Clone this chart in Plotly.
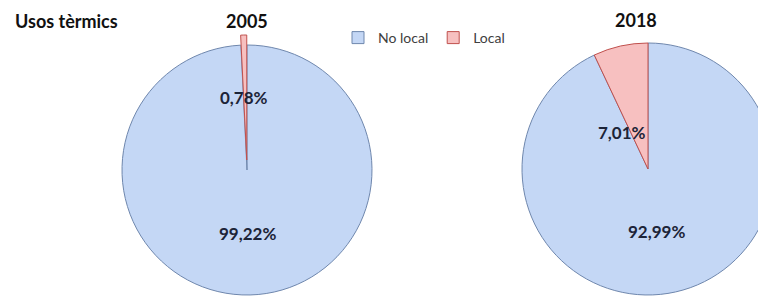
import plotly.graph_objects as go

categories = ["No local", "Local"]
years = ["2005", "2018"]
values_2005 = [99.22, 0.78]
values_2018 = [92.99, 7.01]
pull_2005 = [0, 0.08]
fill_colors = ["#c4d7f5", "#f7c0c0"]
line_colors = ["#6f87ad", "#c0504d"]

def fmt(v):
    return f"{v:.2f}".replace(".", ",") + "%"

W, H = 766, 297
# the page body adds an 8px offset; positions below are in figure pixels
def px(x):
    return x / W

def py(y):
    return 1 - y / H

fig = go.Figure()

fig.add_trace(go.Pie(
    labels=categories, values=values_2005, sort=False, direction="clockwise", rotation=0,
    pull=pull_2005,
    marker=dict(colors=fill_colors, line=dict(color=line_colors, width=1)),
    textinfo="none", hoverinfo="label+percent", showlegend=True,
    domain=dict(x=[px(104), px(374)], y=[0, py(27)]),
))
fig.add_trace(go.Pie(
    labels=categories, values=values_2018, sort=False, direction="clockwise", rotation=0,
    marker=dict(colors=fill_colors, line=dict(color=line_colors, width=1)),
    textinfo="none", hoverinfo="label+percent", showlegend=False,
    domain=dict(x=[px(514), 1.0], y=[py(287), py(35)]),
))

label_font = dict(family="Lato, 'Open Sans', sans-serif", size=17, color="#1c2438")
title_font = dict(family="Lato, 'Open Sans', sans-serif", size=18, color="#111111")

annotations = [
    dict(text="<b>Usos tèrmics</b>", x=px(5), y=1, xanchor="left", yanchor="top", font=title_font),
    dict(text=f"<b>{years[0]}</b>", x=px(239), y=1, xanchor="center", yanchor="top", font=title_font),
    dict(text=f"<b>{years[1]}</b>", x=px(628), y=py(12), xanchor="center", yanchor="middle", font=title_font),
    dict(text=f"<b>{fmt(values_2005[1])}</b>", x=px(236), y=py(90), xanchor="center", yanchor="middle", font=label_font),
    dict(text=f"<b>{fmt(values_2005[0])}</b>", x=px(239), y=py(225), xanchor="center", yanchor="middle", font=label_font),
    dict(text=f"<b>{fmt(values_2018[1])}</b>", x=px(614), y=py(125), xanchor="center", yanchor="middle", font=label_font),
    dict(text=f"<b>{fmt(values_2018[0])}</b>", x=px(648), y=py(223), xanchor="center", yanchor="middle", font=label_font),
]
for a in annotations:
    a.update(xref="paper", yref="paper", showarrow=False)

fig.update_layout(
    width=W, height=H,
    margin=dict(l=0, r=0, t=0, b=0),
    paper_bgcolor="white", plot_bgcolor="white",
    annotations=annotations,
    legend=dict(orientation="h", x=px(330), y=py(30), xanchor="left", yanchor="middle",
                font=dict(family="Lato, 'Open Sans', sans-serif", size=14, color="#404040"),
                itemwidth=30, bgcolor="rgba(0,0,0,0)"),
)

fig.write_html("out.html")
